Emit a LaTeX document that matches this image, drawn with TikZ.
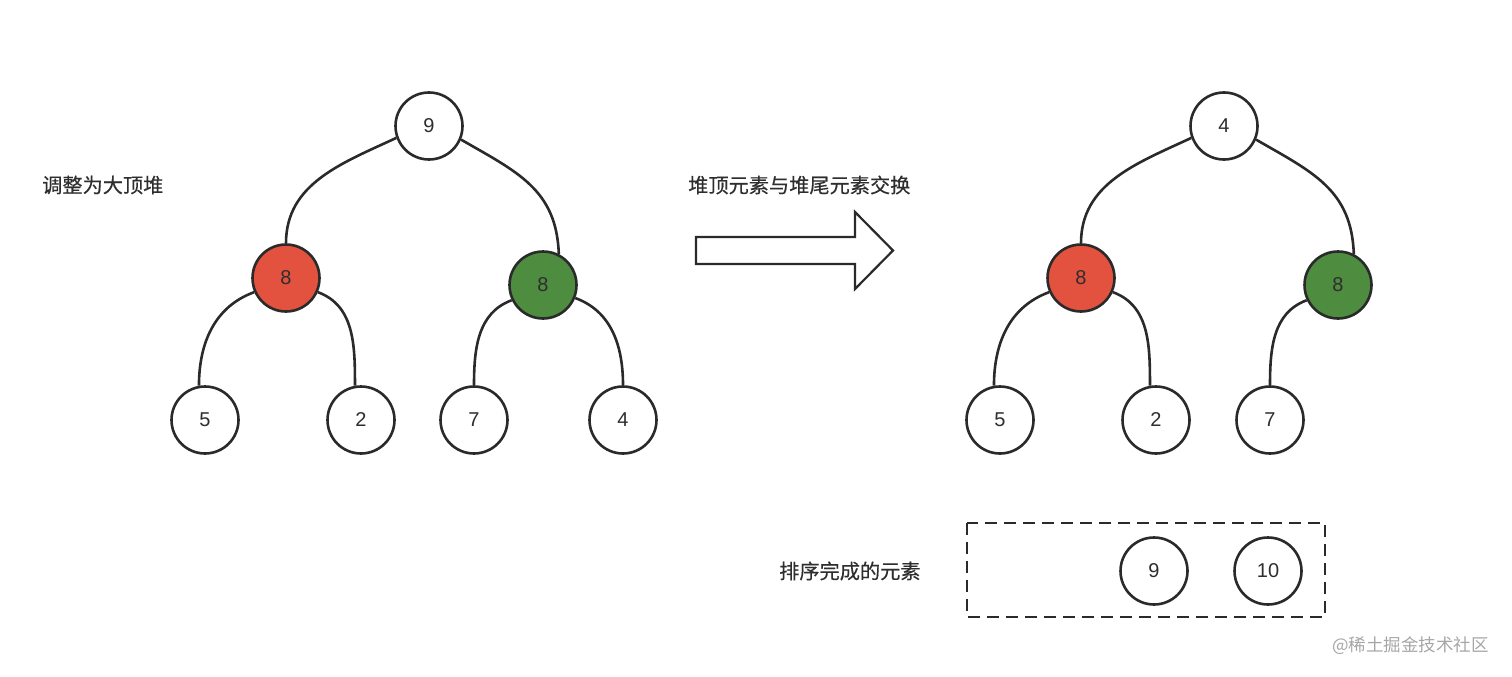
\documentclass[tikz,border=0pt]{standalone}
\usepackage{fontspec}
\setmainfont{Liberation Sans}
\newfontfamily\cjk[FakeBold=0.4]{Noto Sans CJK SC}
\newfontfamily\cjkwm{Noto Sans CJK SC}
\definecolor{linec}{HTML}{2A2A2A}
\definecolor{redf}{HTML}{E2523F}
\definecolor{greenf}{HTML}{4E8C3F}
\definecolor{txt}{HTML}{2E2E2E}
\begin{document}
\begin{tikzpicture}[x=1pt,y=-1pt,
  hnode/.style={circle,draw=linec,line width=2.6pt,minimum size=67pt,inner sep=0pt,fill=white,text=txt,font=\fontsize{20}{22}\selectfont},
  rnode/.style={hnode,fill=redf},
  gnode/.style={hnode,fill=greenf},
  edge/.style={draw=linec,line width=2.6pt},
  lbl/.style={anchor=west,inner sep=0pt,text=txt,font=\cjk\fontsize{20.2}{22}\selectfont}]
\useasboundingbox (0,0) rectangle (1512,677);
% left tree
\node[hnode] (a9) at (429,126) {9};
\node[rnode] (a8r) at (286,278) {8};
\node[gnode] (a8g) at (543,285) {8};
\node[hnode] (a5) at (205,420) {5};
\node[hnode] (a2) at (361,420) {2};
\node[hnode] (a7) at (474,420) {7};
\node[hnode] (a4) at (623,420) {4};
\draw[edge] (a9.200) to[out=205,in=90] (a8r.north);
\draw[edge] (a9.337) to[out=-30,in=92,looseness=1.1] (a8g.63);
\draw[edge] (a8r.204) to[out=200,in=90] (a5.100);
\draw[edge] (a8r.336) to[out=-20,in=90] (a2.100);
\draw[edge] (a8g.206) to[out=200,in=90] (a7.north);
\draw[edge] (a8g.338) to[out=-20,in=90] (a4.north);
% right tree
\node[hnode] (b4) at (1224,126) {4};
\node[rnode] (b8r) at (1081,278) {8};
\node[gnode] (b8g) at (1338,285) {8};
\node[hnode] (b5) at (1000,420) {5};
\node[hnode] (b2) at (1156,420) {2};
\node[hnode] (b7) at (1270,420) {7};
\draw[edge] (b4.200) to[out=205,in=90] (b8r.north);
\draw[edge] (b4.337) to[out=-30,in=92,looseness=1.1] (b8g.63);
\draw[edge] (b8r.204) to[out=200,in=90] (b5.100);
\draw[edge] (b8r.336) to[out=-20,in=90] (b2.100);
\draw[edge] (b8g.206) to[out=200,in=90] (b7.north);
% labels
\node[lbl] (l1) at (42,185) {调整为大顶堆};
\node[lbl] (l2) at (688,185) {堆顶元素与堆尾元素交换};
\node[lbl] (l3) at (779,571) {排序完成的元素};
% arrow
\draw[linec,line width=2.2pt,line join=miter] (696,237) -- (855,237) -- (855,212) -- (893,250.5) -- (855,289) -- (855,264) -- (696,264) -- cycle;
% sorted box
\draw[linec,line width=2.6pt,dash pattern=on 12pt off 7pt] (967,523) rectangle (1325,617);
\node[hnode] (s9) at (1154,571) {9};
\node[hnode] (s10) at (1268,571) {10};
% watermark
\node[anchor=west,inner sep=0pt,text=black!35,font=\cjkwm\fontsize{17.5}{19}\selectfont] (wm) at (1332,646) {@稀土掘金技术社区};
\end{tikzpicture}
\end{document}
